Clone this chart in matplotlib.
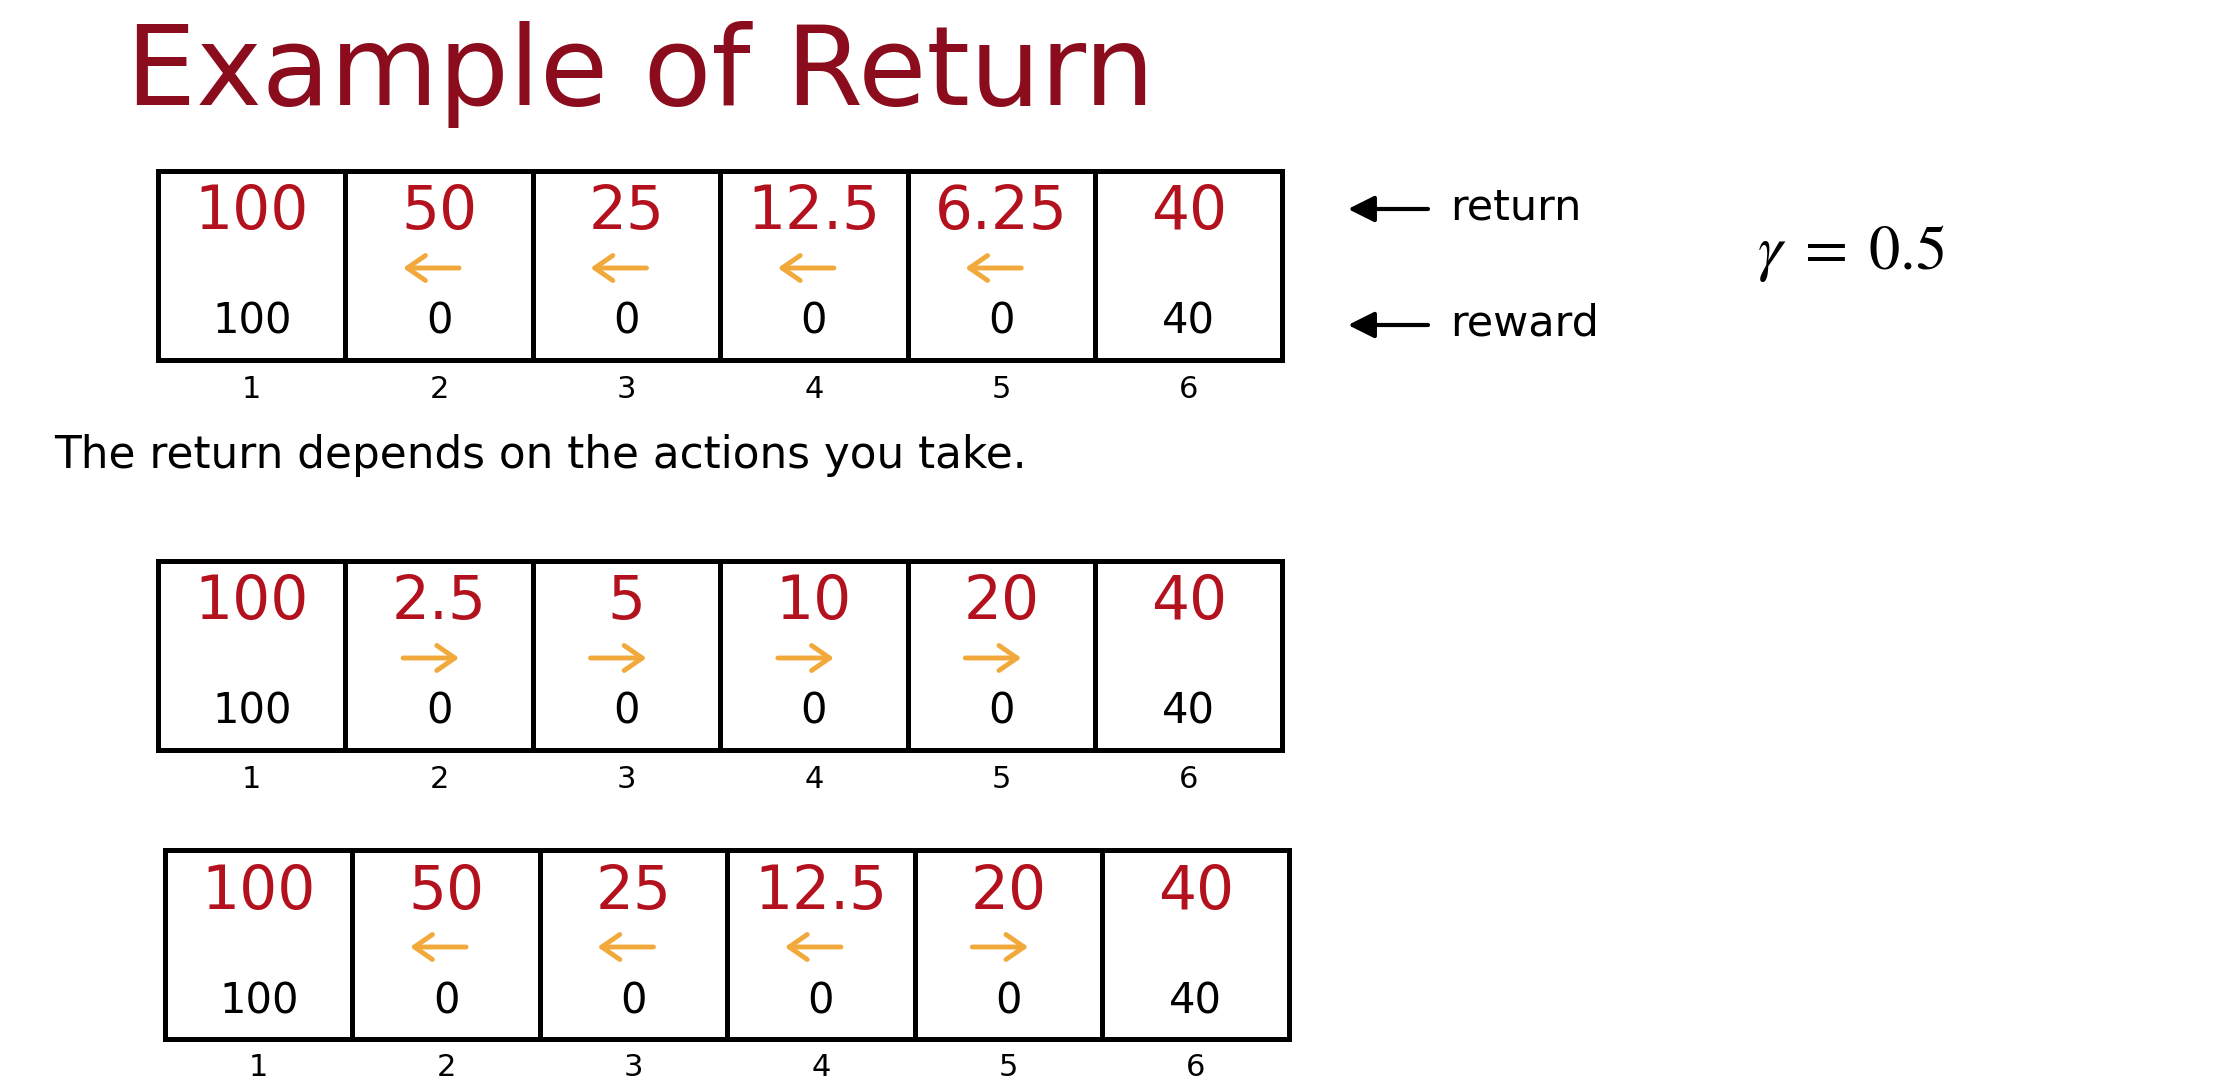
import matplotlib

matplotlib.use("Agg")
import matplotlib.pyplot as plt
from matplotlib.patches import Rectangle

plt.rcParams["font.family"] = ["DejaVu Sans"]
plt.rcParams["mathtext.fontset"] = "stix"

TITLE = "Example of Return"
CAPTION = "The return depends on the actions you take."
GAMMA_LABEL = r"$\gamma\;=\;0.5$"

STATES = [1, 2, 3, 4, 5, 6]
REWARDS = ["100", "0", "0", "0", "0", "40"]

ROW1_RETURNS = ["100", "50", "25", "12.5", "6.25", "40"]
ROW1_ACTIONS = [None, "left", "left", "left", "left", None]

ROW2_RETURNS = ["100", "2.5", "5", "10", "20", "40"]
ROW2_ACTIONS = [None, "right", "right", "right", "right", None]

ROW3_RETURNS = ["100", "50", "25", "12.5", "20", "40"]
ROW3_ACTIONS = [None, "left", "left", "left", "right", None]

TITLE_COLOR = "#8a0c1d"
RETURN_COLOR = "#b3111d"
ARROW_COLOR = "#f2a93b"

CELL_W = 187.4
CELL_H = 189


def draw_row(ax, left, top, returns, actions):
    for i, state in enumerate(STATES):
        x0 = left + i * CELL_W
        cx = x0 + CELL_W / 2
        ax.add_patch(Rectangle((x0, top), CELL_W, CELL_H, fill=False,
                               edgecolor="black", linewidth=3.6))
        ax.text(cx, top + 42, returns[i], color=RETURN_COLOR, fontsize=43,
                ha="center", va="center")
        ax.text(cx, top + 151, REWARDS[i], color="black", fontsize=30,
                ha="center", va="center")
        ax.text(cx, top + 218, str(state), color="black", fontsize=22,
                ha="center", va="center")
        action = actions[i]
        if action is None:
            continue
        ay = top + 97
        ax_c = cx - 8
        if action == "left":
            head, tail = (ax_c - 28, ay), (ax_c + 28, ay)
        else:
            head, tail = (ax_c + 28, ay), (ax_c - 28, ay)
        ax.annotate("", xy=head, xytext=tail,
                    arrowprops=dict(arrowstyle="->,head_length=0.65,head_width=0.45",
                                    color=ARROW_COLOR, lw=3.5, mutation_scale=20,
                                    shrinkA=0, shrinkB=0))


def main() -> None:
    fig = plt.figure(figsize=(22.4, 10.85), dpi=100)
    ax = fig.add_axes([0, 0, 1, 1])
    ax.set_xlim(0, 2240)
    ax.set_ylim(1085, 0)
    ax.axis("off")

    ax.text(126, 105, TITLE, color=TITLE_COLOR, fontsize=80,
            ha="left", va="baseline")

    draw_row(ax, 158, 171, ROW1_RETURNS, ROW1_ACTIONS)
    draw_row(ax, 158, 561, ROW2_RETURNS, ROW2_ACTIONS)
    draw_row(ax, 165, 850, ROW3_RETURNS, ROW3_ACTIONS)

    for label, y in (("return", 209), ("reward", 325)):
        ax.annotate("", xy=(1348, y), xytext=(1428, y),
                    arrowprops=dict(arrowstyle="-|>,head_length=0.8,head_width=0.4",
                                    color="black", lw=3, mutation_scale=20,
                                    shrinkA=0, shrinkB=0))
        ax.text(1450, y - 2, label, color="black", fontsize=31,
                ha="left", va="center")

    ax.text(1757, 254, GAMMA_LABEL, color="black", fontsize=45,
            ha="left", va="center")

    ax.text(54, 468, CAPTION, color="black", fontsize=31.5,
            ha="left", va="baseline")

    fig.savefig("out.png", dpi=100)
    plt.close(fig)


if __name__ == "__main__":
    main()
